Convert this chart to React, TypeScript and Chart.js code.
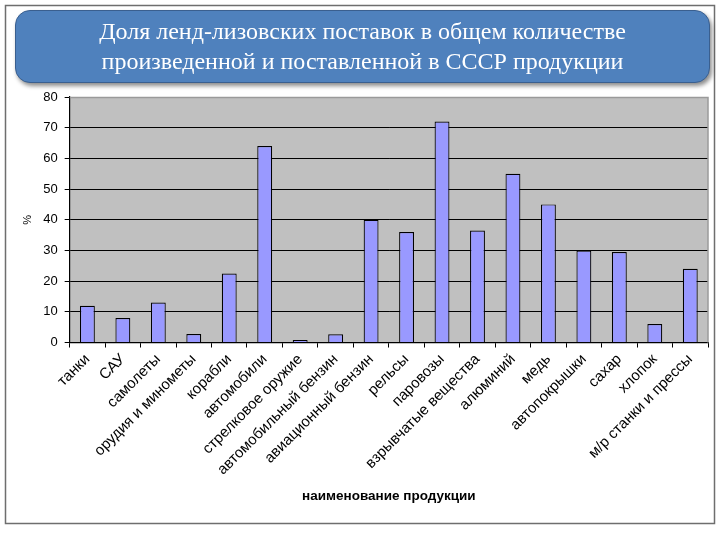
import React, { useEffect, useRef } from "react";
import { Chart, registerables } from "chart.js";

Chart.register(...registerables);

const titleLines = [
  "Доля ленд-лизовских поставок в общем количестве",
  "произведенной и поставленной в СССР продукции",
];

const categories = [
  "танки",
  "САУ",
  "самолеты",
  "орудия и минометы",
  "корабли",
  "автомобили",
  "стрелковое оружие",
  "автомобильный бензин",
  "авиационный бензин",
  "рельсы",
  "паровозы",
  "взрывчатые вещества",
  "алюминий",
  "медь",
  "автопокрышки",
  "сахар",
  "хлопок",
  "м/р станки и прессы",
];

const shares = [12, 8, 13, 2.8, 22.5, 64, 0.8, 2.7, 40, 36, 72, 36.5, 55, 45, 30, 29.5, 6, 24];

const yAxisTitle = "%";
const xAxisTitle = "наименование продукции";

const plotBg = {
  id: "plotBg",
  beforeDraw(chart: any) {
    const { ctx, chartArea } = chart;
    ctx.save();
    ctx.fillStyle = "#ffffff";
    ctx.fillRect(0, 0, chart.width, chart.height);
    ctx.fillStyle = "#c0c0c0";
    ctx.fillRect(chartArea.left, chartArea.top, chartArea.right - chartArea.left, chartArea.bottom - chartArea.top);
    ctx.restore();
  },
  afterDraw(chart: any) {
    const { ctx, chartArea } = chart;
    ctx.save();
    ctx.strokeStyle = "#9a9a9a";
    ctx.lineWidth = 1.5;
    ctx.beginPath();
    ctx.moveTo(chartArea.left, chartArea.top + 0.5);
    ctx.lineTo(chartArea.right, chartArea.top + 0.5);
    ctx.lineTo(chartArea.right, chartArea.bottom);
    ctx.stroke();
    // slide frame
    ctx.strokeStyle = "#6e6e6e";
    ctx.lineWidth = 1.5;
    ctx.strokeRect(5.5, 5.5, 709, 518);
    ctx.restore();
  },
};

export default function App() {
  const ref = useRef<HTMLCanvasElement>(null);
  useEffect(() => {
    if (!ref.current) return;
    const chart = new Chart(ref.current, {
      type: "bar",
      data: {
        labels: categories,
        datasets: [
          {
            data: shares,
            backgroundColor: "#9999ff",
            borderColor: "#000000",
            borderWidth: 1.2,
            barPercentage: 0.42,
            categoryPercentage: 1,
          },
        ],
      },
      options: {
        animation: false,
        responsive: false,
        maintainAspectRatio: false,
        layout: { padding: { top: 97, left: 21, right: 12, bottom: 36 } },
        plugins: { legend: { display: false }, tooltip: { enabled: false } },
        scales: {
          x: {
            grid: {
              offset: true,
              drawOnChartArea: false,
              drawTicks: true,
              tickLength: 5,
              color: "#000000",
            },
            border: { color: "#000000", width: 1.2 },
            ticks: {
              minRotation: 45,
              maxRotation: 45,
              autoSkip: false,
              color: "#000000",
              padding: 3,
              font: { family: "Liberation Sans, Arial", size: 15 },
            },
            title: {
              display: true,
              text: xAxisTitle,
              color: "#000000",
              font: { family: "Liberation Sans, Arial", size: 13.5, weight: "bold" },
              padding: { top: 6, bottom: 0 },
            },
          },
          y: {
            min: 0,
            max: 80,
            ticks: {
              stepSize: 10,
              color: "#000000",
              padding: 7,
              font: { family: "Liberation Sans, Arial", size: 13 },
            },
            grid: {
              color: (c: any) => (c.tick && c.tick.value === 80 ? "rgba(0,0,0,0)" : "#000000"),
              lineWidth: 1,
              tickLength: 5,
              tickColor: "#000000",
            },
            border: { color: "#000000", width: 1.2 },
            title: {
              display: true,
              text: yAxisTitle,
              color: "#000000",
              font: { family: "Liberation Sans, Arial", size: 11 },
              padding: { top: 0, bottom: 2 },
            },
          },
        },
      },
      plugins: [plotBg],
    });
    return () => chart.destroy();
  }, []);

  return (
    <div style={{ position: "absolute", left: 0, top: 0, width: 720, height: 540, background: "#fff" }}>
      <canvas ref={ref} width={720} height={540} style={{ display: "block", width: 720, height: 540 }} />
      <div
        style={{
          position: "absolute",
          left: 15,
          top: 10,
          width: 695,
          height: 73,
          boxSizing: "border-box",
          borderRadius: 15,
          background: "#4f81bd",
          border: "1.5px solid #3a5f8f",
          boxShadow: "2px 3px 4px rgba(0,0,0,0.45)",
          color: "#ffffff",
          fontFamily: "'Liberation Serif', 'Times New Roman', serif",
          fontSize: 24,
          lineHeight: "30px",
          textAlign: "center",
          paddingTop: 5,
        }}
      >
        <div>{titleLines[0]}</div>
        <div>{titleLines[1]}</div>
      </div>
    </div>
  );
}
